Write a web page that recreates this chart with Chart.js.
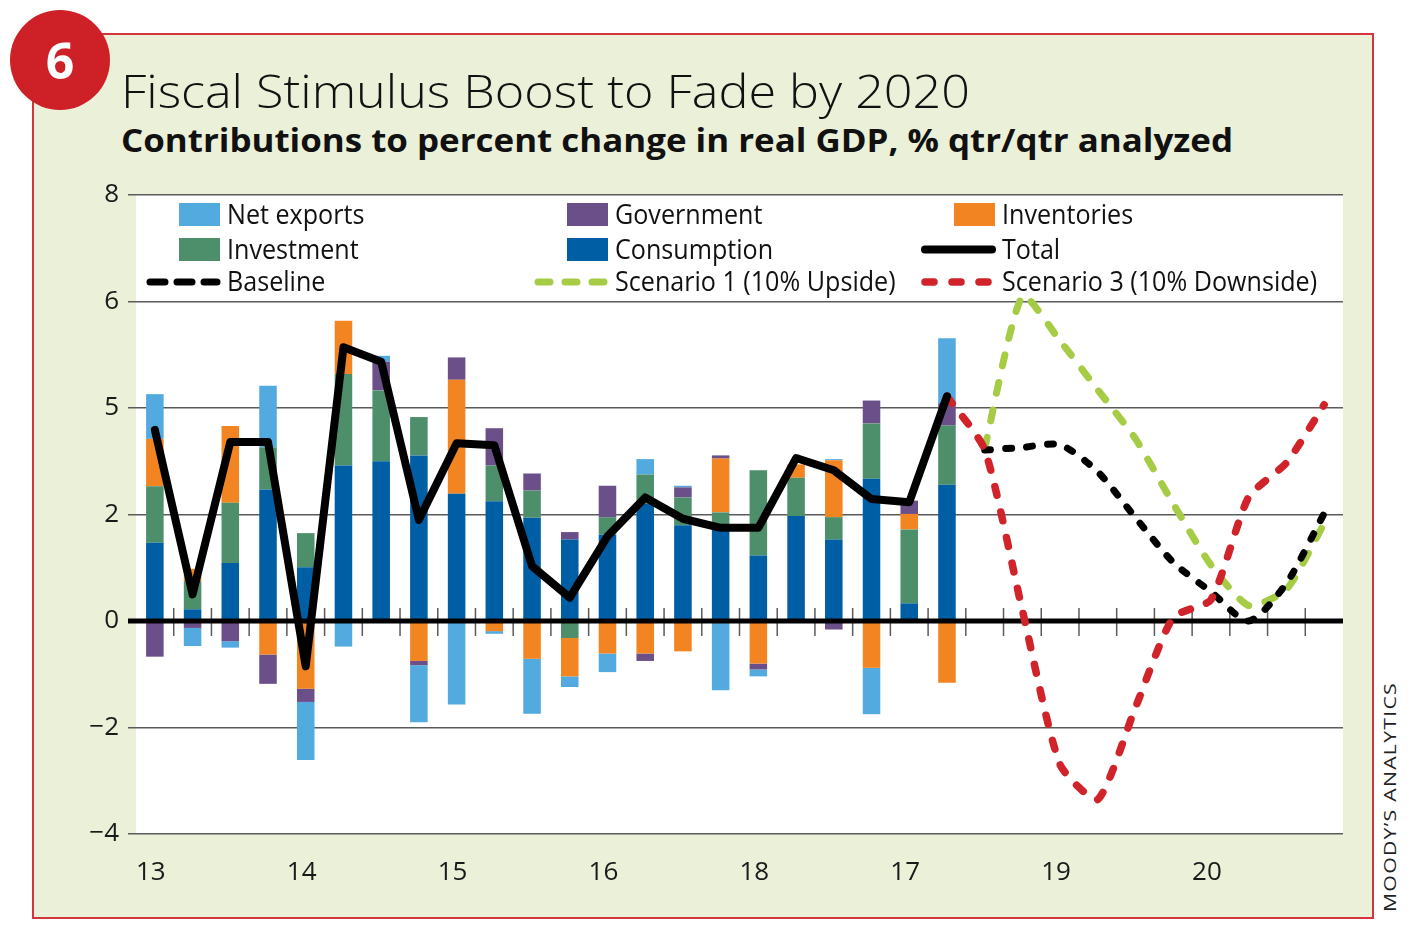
<!DOCTYPE html>
<html>
<head>
<meta charset="utf-8">
<title>Fiscal Stimulus Boost to Fade by 2020</title>
<script src="https://cdn.jsdelivr.net/npm/chart.js@4.4.1/dist/chart.umd.min.js"></script>
<style>
	html, body { margin: 0; padding: 0; background: #fff; }
	body { width: 1412px; height: 935px; position: relative; overflow: hidden; font-family: 'Open Sans', 'Noto Sans', sans-serif; color: #111; }
	#panel { position: absolute; left: 32px; top: 33px; width: 1338px; height: 882px; background: #ebf0d8; border: 2px solid #d2363a; }
	#badge { position: absolute; left: 10px; top: 10px; width: 100px; height: 100px; border-radius: 50%; background: #cd2027;
		color: #fff; font-weight: 700; font-size: 50px; display: flex; align-items: center; justify-content: center; line-height: 1; }
	.txt { position: absolute; white-space: nowrap; line-height: 1; transform-origin: left top; }
	#title { left: 121px; top: 67px; font-size: 46px; font-weight: 300; }
	#subtitle { left: 121px; top: 123px; font-size: 33px; font-weight: 700; }
	#source { left: 1381px; top: 912px; font-size: 17px; letter-spacing: 1px; color: #222; }
	#chart { position: absolute; left: 0; top: 0; }
</style>
</head>
<body>
<div id="panel"></div>
<div id="badge">6</div>
<div id="title" class="txt">Fiscal Stimulus Boost to Fade by 2020</div>
<div id="subtitle" class="txt">Contributions to percent change in real GDP, % qtr/qtr analyzed</div>
<div id="source" class="txt">MOODY’S ANALYTICS</div>
<canvas id="chart" width="1412" height="935"></canvas>
<script>
//================ data ================
// x axis: 32 quarters, a year label on every 4th one (labels kept as printed)
const yearLabels = ['13', '14', '15', '16', '18', '17', '19', '20'];
// y axis: ticks at -4..8 step 2, printed labels as in the original
const yTickLabels = ['−4', '−2', '0', '2', '5', '6', '8'];

// stacked contributions, one value per quarter (22 historical quarters)
const consumption = [1.47, 0.22, 1.09, 2.47, 1.01, 2.92, 3.00, 3.11, 2.39, 2.25, 1.94, 1.53, 1.62, 2.20, 1.80, 1.75, 1.23, 1.97, 1.53, 2.67, 0.33, 2.56];
const investment  = [1.06, 0.53, 1.13, 0.79, 0.64, 1.72, 1.33, 0.72, 0, 0.67, 0.51, -0.32, 0.33, 0.55, 0.52, 0.29, 1.60, 0.72, 0.42, 1.04, 1.39, 1.11];
const inventories = [0.89, 0.23, 1.44, -0.63, -1.27, 1.00, 0, -0.75, 2.14, -0.19, -0.71, -0.72, -0.61, -0.61, -0.57, 1.01, -0.80, 0.25, 1.07, -0.88, 0.29, -1.16];
const government  = [-0.67, -0.13, -0.38, -0.55, -0.25, 0, 0.54, -0.08, 0.42, 0.70, 0.32, 0.14, 0.59, -0.14, 0.19, 0.06, -0.11, 0, -0.16, 0.43, 0.25, 0.42];
const netExports  = [0.84, -0.34, -0.12, 1.16, -1.09, -0.48, 0.11, -1.07, -1.57, -0.05, -1.03, -0.20, -0.35, 0.29, 0.03, -1.30, -0.13, 0, 0.02, -0.87, 0, 1.22];
const total       = [3.59, 0.50, 3.36, 3.36, -0.85, 5.14, 4.87, 1.90, 3.34, 3.30, 1.03, 0.44, 1.59, 2.32, 1.92, 1.75, 1.75, 3.06, 2.83, 2.29, 2.23, 4.22];

// forecast paths (baseline and upside start at quarter 22, downside at quarter 21)
const baselineFc = [3.21, 3.26, 3.31, 2.80, 1.94, 1.10, 0.55, 0.0, 0.71, 2.02];
const upsideFc   = [3.25, 6.10, 5.26, 4.34, 3.42, 2.20, 1.05, 0.29, 0.59, 1.83];
const downsideFc = [4.22, 3.22, 0.20, -2.70, -3.35, -1.62, 0.07, 0.40, 2.33, 2.97, 4.06];
//======================================

const categories = [];
for (let i = 0; i < 32; i++) {
	categories.push(i % 4 === 0 ? yearLabels[i / 4] : '');
}
function lead(n, arr) {
	return new Array(n).fill(null).concat(arr);
}

// text fitting for the html header
function fitWidth(el, w, extra) {
	const s = w / el.getBoundingClientRect().width;
	el.style.transform = (extra || '') + ' scaleX(' + s + ')';
}
fitWidth(document.getElementById('title'), 849);
fitWidth(document.getElementById('subtitle'), 1112);
fitWidth(document.getElementById('source'), 230, 'rotate(-90deg)');

const FONT = "'Open Sans', 'Noto Sans', sans-serif";

// legend grid: rows x cols, by dataset label
const legendGrid = [
	['Net exports', 'Government', 'Inventories'],
	['Investment', 'Consumption', 'Total'],
	['Baseline', 'Scenario 1 (10% Upside)', 'Scenario 3 (10% Downside)']
];

function drawLegend(chart) {
	const ctx = chart.ctx;
	const colX = [179, 567, 954];
	const rowY = [214.5, 249.5, 282];
	ctx.save();
	legendGrid.forEach((row, r) => {
		row.forEach((label, c) => {
			const ds = chart.data.datasets.find(d => d.label === label);
			const x = colX[c], y = rowY[r];
			if (ds.type === 'bar') {
				ctx.fillStyle = ds.backgroundColor;
				ctx.fillRect(x, y - 11.5, 41, 23);
			} else {
				ctx.strokeStyle = ds.borderColor;
				ctx.lineWidth = ds.borderWidth;
				ctx.lineCap = 'round';
				ctx.setLineDash(ds.legendDash || []);
				ctx.beginPath();
				ctx.moveTo(x + 41 - 70, y);
				ctx.lineTo(x + 41 - 3, y);
				ctx.stroke();
				ctx.setLineDash([]);
			}
			ctx.save();
			ctx.translate(x + 48, y + 9);
			ctx.scale(0.93, 1);
			ctx.font = '27px ' + FONT;
			ctx.fillStyle = '#111';
			ctx.textBaseline = 'alphabetic';
			ctx.fillText(label, 0, 0);
			ctx.restore();
		});
	});
	ctx.restore();
}

function drawZero(chart) {
	const ctx = chart.ctx;
	const a = chart.chartArea;
	const xs = chart.scales.x, ys = chart.scales.y;
	const y0 = ys.getPixelForValue(0);
	ctx.save();
	ctx.strokeStyle = '#5b5b5b';
	ctx.lineWidth = 1.5;
	for (let i = 1; i < categories.length; i++) {
		const bx = (xs.getPixelForValue(i - 1) + xs.getPixelForValue(i)) / 2;
		ctx.beginPath();
		ctx.moveTo(bx, y0 - 13);
		ctx.lineTo(bx, y0 + 15);
		ctx.stroke();
	}
	ctx.strokeStyle = '#000';
	ctx.lineWidth = 5;
	ctx.beginPath();
	ctx.moveTo(a.left - 8, y0);
	ctx.lineTo(a.right, y0);
	ctx.stroke();
	ctx.restore();
}

const panelPlugin = {
	id: 'panelPlugin',
	beforeDraw(chart) {
		const a = chart.chartArea;
		chart.ctx.save();
		chart.ctx.fillStyle = '#fff';
		chart.ctx.fillRect(a.left, a.top, a.right - a.left, a.bottom - a.top);
		chart.ctx.restore();
	},
	beforeDatasetsDraw(chart) {
		drawLegend(chart);
		chart.$zeroDone = false;
	},
	beforeDatasetDraw(chart, args) {
		if (args.meta.type === 'line' && !chart.$zeroDone) {
			drawZero(chart);
			chart.$zeroDone = true;
		}
	}
};

function barSet(label, data, color) {
	return {
		type: 'bar',
		label: label,
		data: data,
		backgroundColor: color,
		borderWidth: 0,
		barPercentage: 0.465,
		categoryPercentage: 1,
		order: 10
	};
}

const ctx = document.getElementById('chart').getContext('2d');
const myChart = new Chart(ctx, {
	data: {
		labels: categories,
		datasets: [
			barSet('Consumption', consumption, '#005ea4'),
			barSet('Investment', investment, '#4e8f6b'),
			barSet('Inventories', inventories, '#f28522'),
			barSet('Government', government, '#6b4f89'),
			barSet('Net exports', netExports, '#52aadf'),
			{
				type: 'line',
				label: 'Total',
				data: total,
				borderColor: '#000',
				borderWidth: 8,
				borderJoinStyle: 'round',
				borderCapStyle: 'round',
				pointRadius: 0,
				tension: 0,
				stack: 'total',
				order: 0
			},
			{
				type: 'line',
				label: 'Scenario 3 (10% Downside)',
				data: lead(21, downsideFc),
				borderColor: '#d1232a',
				borderWidth: 7.5,
				borderDash: [9, 17],
				legendDash: [9, 18],
				borderCapStyle: 'round',
				pointRadius: 0,
				tension: 0.2,
				stack: 'down',
				order: 1
			},
			{
				type: 'line',
				label: 'Baseline',
				data: lead(22, baselineFc),
				borderColor: '#000',
				borderWidth: 7,
				borderDash: [6, 15],
				legendDash: [15, 12],
				borderCapStyle: 'round',
				pointRadius: 0,
				tension: 0.25,
				stack: 'base',
				order: 2
			},
			{
				type: 'line',
				label: 'Scenario 1 (10% Upside)',
				data: lead(22, upsideFc),
				borderColor: '#a6cb45',
				borderWidth: 7,
				borderDash: [11, 17],
				legendDash: [12, 15],
				borderCapStyle: 'round',
				pointRadius: 0,
				tension: 0.2,
				stack: 'up',
				order: 3
			}
		]
	},
	options: {
		responsive: false,
		animation: false,
		layout: { padding: { left: 0, top: 195, right: 69, bottom: 0 } },
		plugins: {
			legend: { display: false },
			tooltip: { enabled: false },
			title: { display: false }
		},
		scales: {
			x: {
				stacked: true,
				offset: true,
				grid: { display: false, drawTicks: false },
				border: { display: false },
				ticks: {
					autoSkip: false,
					maxRotation: 0,
					padding: 23,
					labelOffset: -4,
					color: '#1a1a1a',
					font: { family: FONT, size: 26 }
				},
				afterFit(s) { s.height = 101; }
			},
			y: {
				stacked: true,
				min: -4,
				max: 8,
				border: { display: false },
				grid: {
					color: c => (c.tick && c.tick.value === 0) ? 'rgba(0,0,0,0)' : '#5b5b5b',
					lineWidth: 1.5,
					drawTicks: true,
					tickLength: 8
				},
				ticks: {
					stepSize: 2,
					padding: 9,
					color: '#1a1a1a',
					font: { family: FONT, size: 26 },
					callback: v => yTickLabels[(v + 4) / 2]
				},
				afterFit(s) { s.width = 136; }
			}
		}
	},
	plugins: [panelPlugin]
});
</script>
</body>
</html>
